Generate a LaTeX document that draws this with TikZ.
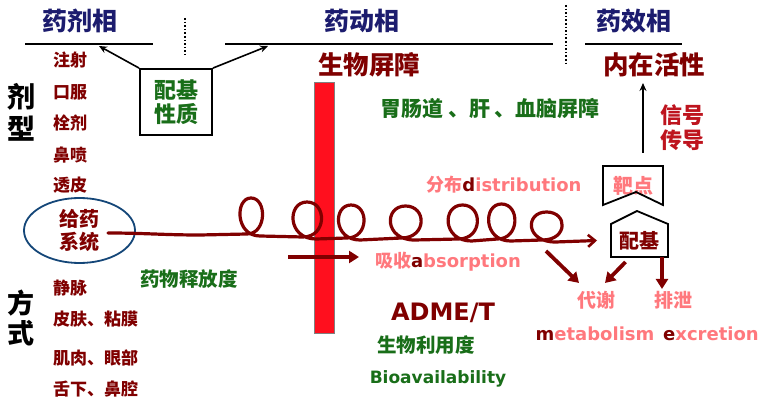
\documentclass[tikz,border=0pt]{standalone}
\usepackage{fontspec}
\setmainfont{DejaVu Sans}
\newfontfamily\cjk{Noto Sans CJK SC}
\newfontfamily\lat{DejaVu Sans}
\usetikzlibrary{arrows.meta,calc,shapes.geometric}
\definecolor{navy}{RGB}{28,28,110}
\definecolor{dred}{RGB}{128,0,0}
\definecolor{sred}{RGB}{190,20,30}
\definecolor{dgreen}{RGB}{25,110,25}
\definecolor{pinkt}{RGB}{255,120,125}
\definecolor{barred}{RGB}{255,15,30}
\definecolor{ellblue}{RGB}{20,70,120}
\newcommand\fsz[2]{\fontsize{#1}{#2}\selectfont}
\begin{document}
\begin{tikzpicture}[x=1pt,y=-1pt,
  lbl/.style={inner sep=0pt,outer sep=0pt,align=center},
  hd/.style={lbl,text=navy,font=\cjk\bfseries\fsz{25}{28}},
  big/.style={lbl,text=dred,font=\cjk\bfseries\fsz{25.5}{28}},
  side/.style={lbl,text=black,font=\cjk\bfseries\fsz{28}{32}},
  item/.style={lbl,anchor=west,text=dred,font=\cjk\bfseries\fsz{17}{20}},
  grn/.style={lbl,text=dgreen,font=\cjk\bfseries\fsz{19.5}{23}},
  pnk/.style={lbl,text=pinkt,font=\lat\bfseries\fsz{18}{20}},
  rule/.style={line width=2pt,black},
  blackarrow/.style={line width=1.6pt,-{Stealth[length=8pt,width=7pt]}},
  redarrow/.style={line width=3.8pt,dred,-{Triangle[length=10pt,width=12pt]}},
  spiral/.style={line width=3.2pt,dred,line cap=round,line join=round,-{Straight Barb[length=7pt,width=12pt,line width=2.6pt]}},
  shapeline/.style={line width=1.8pt,black,line join=miter}
]
\useasboundingbox (0,0) rectangle (768,403);
\fill[white] (0,0) rectangle (768,403);

% headings
\node[hd] (h1) at (80,21) {药剂相};
\node[hd] (h2) at (362,21) {药动相};
\node[hd] (h3) at (634,21) {药效相};
\coordinate (l1a) at (25,44); \coordinate (l1b) at (153,44);
\coordinate (l2a) at (225,44); \coordinate (l2b) at (553,44);
\coordinate (l3a) at (585,44); \coordinate (l3b) at (682,44);
\draw[rule] (l1a) -- (l1b);
\draw[rule] (l2a) -- (l2b);
\draw[rule] (l3a) -- (l3b);
\coordinate (d1a) at (185,18); \coordinate (d1b) at (185,55);
\coordinate (d2a) at (566,5); \coordinate (d2b) at (566,63);
\draw[line width=1.6pt,dotted] (d1a) -- (d1b);
\draw[line width=1.6pt,dotted] (d2a) -- (d2b);

% ligand property box
\node[draw,line width=1.8pt,minimum width=72pt,minimum height=66pt,inner sep=0pt,align=center,
      text=dgreen,font=\cjk\bfseries\fsz{22}{24}] (pzx) at (176,102) {配基\\性质};
\coordinate (a1) at (99,46); \coordinate (a2) at (268,46);
\draw[blackarrow] (pzx.north west) -- (a1);
\draw[blackarrow] (pzx.north east) -- (a2);

% titles under lines
\node[big] (swpz) at (369,65) {生物屏障};
\node[big] (nzhx) at (654,65) {内在活性};

% red barrier
\node[fill=barred,draw=gray,line width=1pt,minimum width=20pt,minimum height=250pt,inner sep=0pt] (bar) at (324,208) {};

\node[lbl,text=dgreen,font=\cjk\bfseries\fsz{21}{23}] (wcd) at (490,109) {胃肠道 、肝 、血脑屏障};

% signal
\coordinate (sigs) at (643,153); \coordinate (sige) at (643,83);
\draw[blackarrow] (sigs) -- (sige);
\node[lbl,text=sred,font=\cjk\bfseries\fsz{22}{25}] (xh) at (682,128) {信号\\传导};

% left column
\node[side] (jx) at (22,112) {剂\\型};
\node[side,font=\cjk\bfseries\fsz{27}{30}] (fs) at (21,318) {方\\式};
\node[item] (i1) at (53,60) {注射};
\node[item] (i2) at (53,92) {口服};
\node[item] (i3) at (53,123) {栓剂};
\node[item] (i4) at (53,155) {鼻喷};
\node[item] (i5) at (53,185) {透皮};
\node[item] (i6) at (53,288) {静脉};
\node[item] (i7) at (53,319) {皮肤、粘膜};
\node[item] (i8) at (53,358) {肌肉、眼部};
\node[item] (i9) at (53,389) {舌下、鼻腔};

\node[ellipse,draw=ellblue,line width=1.8pt,minimum width=111pt,minimum height=65pt,inner sep=0pt,
      align=center,text=dred,font=\cjk\bfseries\fsz{20}{23}] (gy) at (79.5,230.5) {给药\\系统};

\node[grn] (sfd) at (189,279) {药物释放度};

% target and ligand shapes
\node[lbl,minimum width=60pt,minimum height=39pt,text=pinkt,font=\cjk\bfseries\fsz{20}{22}] (bd) at (633,185.5) {\raisebox{2pt}{靶点}};
\coordinate (bdn) at (636,192);
\draw[shapeline] (bd.north west) -- (bd.north east) -- (bd.south east) -- (bdn) -- (bd.south west) -- cycle;
\node[lbl,minimum width=57pt,minimum height=33pt,text=dred,font=\cjk\bfseries\fsz{20}{22}] (pj) at (639.5,240.5) {\raisebox{-3pt}{配基}};
\coordinate (pjpk) at (637,211);
\draw[shapeline] (pj.south west) -- (pj.south east) -- (pj.north east) -- (pjpk) -- (pj.north west) -- cycle;

% spiral
\coordinate (sp0) at (108,233);
\coordinate (spe) at ($(pj.west)+(-14,0)$);
\draw[spiral] (sp0) to[out=0,in=180] (200,235)
  \foreach \l/\r/\t/\b in {240/262/198/234,292/322/202/237,338/364/205/238,389/422/206/238,447/478/205/239,488/515/204/239,530/563/212/240}{
   -- ({(\l+\r)/2-4},\b) .. controls ({\r+5},\b) and ({\r+5},\t) .. ({(\l+\r)/2},\t)
   .. controls ({\l-5},\t) and ({\l-5},{\b+2}) .. ({(\l+\r)/2+9},{\b+2}) }
  -- (spe);

% absorption arrow
\coordinate (abss) at (288,257); \coordinate (abse) at (359,257);
\draw[redarrow] (abss) -- (abse);

\node[pnk,anchor=base] (xs) at (448,268) {{\cjk 吸收}\textcolor{dred}{a}bsorption};
\node[pnk,anchor=base] (fb) at (504,192) {{\cjk 分布}\textcolor{dred}{d}istribution};

% metabolism / excretion
\node[lbl,text=pinkt,font=\cjk\bfseries\fsz{19}{21}] (dx) at (596,300) {代谢};
\node[lbl,text=pinkt,font=\cjk\bfseries\fsz{19}{21}] (px) at (673,300) {排泄};
\coordinate (m1s) at (546,251);
\draw[redarrow] (m1s) -- ($(dx.north west)+(2,-8)$);
\draw[redarrow] ($(pj.south)+(-14,5)$) -- ($(dx.north)+(9,-8)$);
\draw[redarrow] ($(pj.south east)+(-6,0)$) -- ($(px.north)+(-11,-2)$);
\node[pnk,anchor=base] (met) at (595,340) {\textcolor{dred}{m}etabolism};
\node[pnk,anchor=base] (exc) at (711,340) {\textcolor{dred}{e}xcretion};

% ADME
\node[lbl,anchor=base,text=dred,font=\lat\bfseries\fsz{24}{26}] (adme) at (443,320) {ADME/T};
\node[grn] (swly) at (426,345) {生物利用度};
\node[lbl,anchor=base,text=dgreen,font=\lat\bfseries\fsz{17}{20}] (bio) at (438,383) {Bioavailability};
\end{tikzpicture}
\end{document}
